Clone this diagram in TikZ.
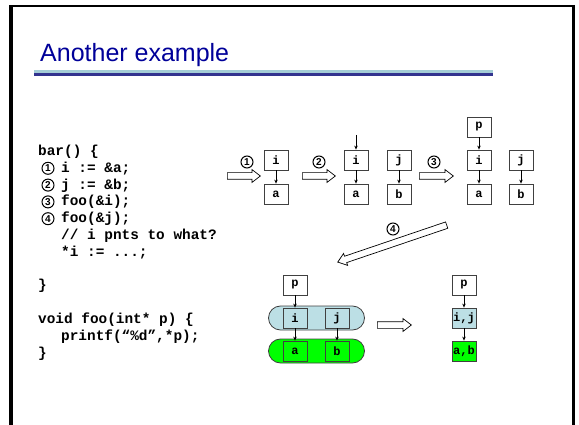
\documentclass[tikz,border=0pt]{standalone}
\usepackage{fontspec}
\setmainfont{Liberation Sans}
\setmonofont{Liberation Mono}
\usepackage{tikz}
\usetikzlibrary{positioning,arrows.meta,shapes.arrows}
\definecolor{titlec}{HTML}{000099}
\definecolor{rulec}{HTML}{A4CDD6}
\definecolor{rulek}{HTML}{33338F}
\definecolor{ptrc}{HTML}{BCDFE5}
\definecolor{objc}{HTML}{00FF00}
\definecolor{boxc}{HTML}{404040}
\tikzset{
  code/.style={font=\fontsize{14.4}{16.8}\selectfont\ttfamily\bfseries, anchor=base west, inner sep=0pt},
  cell/.style={draw=boxc, fill=white, line width=0.8pt, minimum width=24pt, minimum height=20pt,
               inner sep=0pt, font=\fontsize{12}{12}\selectfont\ttfamily\bfseries},
  pcell/.style={cell, fill=ptrc},
  ocell/.style={cell, fill=objc},
  blob/.style={draw=boxc, rounded corners=12pt, line width=0.8pt, minimum width=96pt, minimum height=24pt},
  num/.style={circle, draw, line width=1pt, inner sep=0pt, minimum size=12pt, font=\fontsize{10}{10}\selectfont\bfseries},
  fat/.style={single arrow, draw, fill=white, line width=0.7pt, inner sep=3pt,
              single arrow head extend=3pt, single arrow tip angle=75, anchor=tail},
  ptr/.style={-{Stealth[length=4pt,width=3.5pt]}, line width=0.7pt},
}
\begin{document}
\begin{tikzpicture}[x=1pt,y=-1pt]
  \useasboundingbox (0,0) rectangle (579,425);
  % frame and title
  \draw[line width=3.5pt] (11,440) -- (11,5);
  \draw[line width=2pt] (9.25,6) -- (575,6);
  \draw[line width=3pt] (573.5,5) -- (573.5,440);
  \node[font=\fontsize{25}{25}\selectfont, text=titlec, anchor=base west, inner sep=0pt] (title) at (40,62) {Another example};
  \fill[rulec] (34,70) rectangle (493,73.5);
  \fill[rulek] (34,73.5) rectangle (493,76);

  % code
  \node[code] (l0) at (38,155.5) {bar() \{};
  \node[num] (c1) at (48,168.3) {1}; \node[code] (l1) at (61,172.3) {i := \&a;};
  \node[num] (c2) at (48,185.1) {2}; \node[code] (l2) at (61,189.1) {j := \&b;};
  \node[num] (c3) at (48,201.9) {3}; \node[code] (l3) at (61,205.9) {foo(\&i);};
  \node[num] (c4) at (48,218.7) {4}; \node[code] (l4) at (61,222.7) {foo(\&j);};
  \node[code] (l5) at (61,239.5) {// i pnts to what?};
  \node[code] (l6) at (61,256.3) {*i := ...;};
  \node[code] (l8) at (38,289.9) {\}};
  \node[code] (l10) at (38,323.5) {void foo(int* p) \{};
  \node[code] (l11) at (61,340.3) {printf(“\%d”,*p);};
  \node[code] (l12) at (38,357.1) {\}};

  % steps 1 to 3
  \node[fat, minimum height=33pt] (s1) at (227,176) {};
  \node[num] (n1) at (247,162) {1};
  \node[cell] (i1) at (276,160) {i};
  \node[cell] (a1) at (276,194) {a};
  \draw[ptr] (i1) -- (a1);

  \node[fat, minimum height=33pt] (s2) at (302,176) {};
  \node[num] (n2) at (319,162) {2};
  \coordinate (in2) at (356,135);
  \node[cell] (i2) at (356,160) {i};
  \node[cell] (a2) at (356,194) {a};
  \node[cell] (j2) at (399,160) {j};
  \node[cell] (b2) at (399,194) {b};
  \draw[ptr] (in2) -- (i2);
  \draw[ptr] (i2) -- (a2);
  \draw[ptr] (j2) -- (b2);

  \node[fat, minimum height=34pt] (s3) at (419,176) {};
  \node[num] (n3) at (434,162) {3};
  \node[cell] (p3) at (479,127) {p};
  \node[cell] (i3) at (479,160) {i};
  \node[cell] (a3) at (479,194) {a};
  \node[cell] (j3) at (521,160) {j};
  \node[cell] (b3) at (521,194) {b};
  \draw[ptr] (p3) -- (i3);
  \draw[ptr] (i3) -- (a3);
  \draw[ptr] (j3) -- (b3);

  % step 4
  \node[fat, minimum height=115pt, rotate=198.75] (s4) at (447,225) {};
  \node[num] (n4) at (393,229) {4};
  \node[blob, fill=ptrc] (pb) at (316.5,318) {};
  \node[blob, fill=objc] (ob) at (316.5,351) {};
  \node[cell] (p4) at (295,285) {p};
  \node[pcell] (i4) at (295,318) {i};
  \node[pcell] (j4) at (337,318) {j};
  \node[ocell] (a4) at (295,351) {a};
  \node[ocell] (b4) at (337,351) {b};
  \draw[ptr] (p4) -- (i4);
  \draw[ptr] (i4) -- (a4);
  \draw[ptr] (j4) -- (b4);

  \node[fat, minimum height=34pt] (s5) at (377,325) {};
  \node[cell] (p5) at (464,285) {p};
  \node[pcell] (ij) at (464,318) {i,j};
  \node[ocell] (ab) at (464,351) {a,b};
  \draw[ptr] (p5) -- (ij);
  \draw[ptr] (ij) -- (ab);
\end{tikzpicture}
\end{document}
